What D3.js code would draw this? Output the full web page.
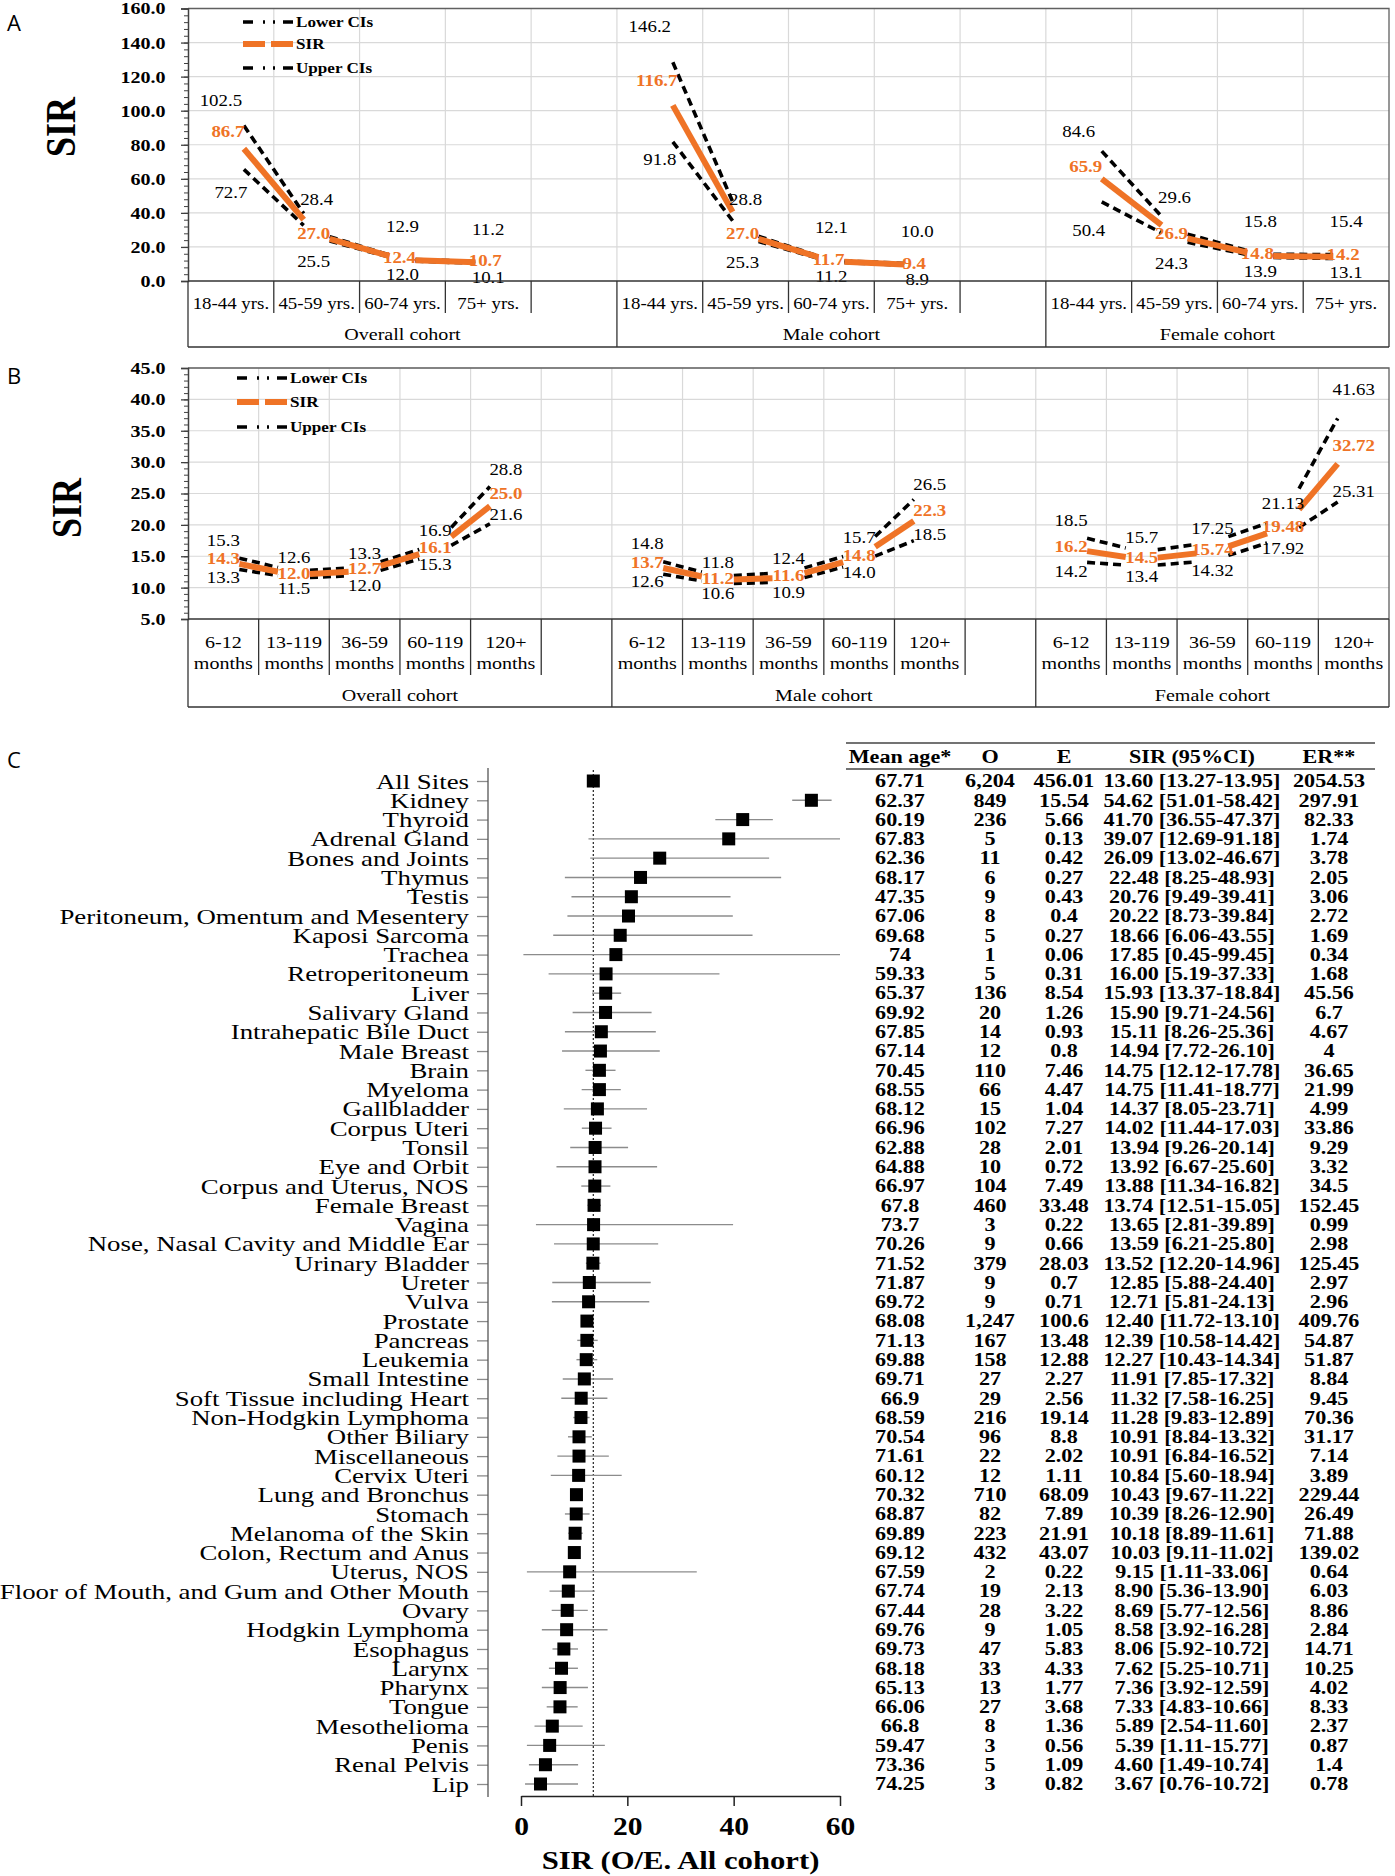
<!DOCTYPE html>
<html>
<head>
<meta charset="utf-8">
<script src="https://cdn.jsdelivr.net/npm/d3@7"></script>
<style>
  body { margin: 0; background: #fff; }
  svg { display: block; }
  text { font-family: 'Liberation Serif', 'Times New Roman', serif; }
  .letter { font-family: 'Open Sans', sans-serif; font-size: 22px; }
</style>
</head>
<body>
<div id="chart"></div>
<script>
// ---- panel A: SIR by age group ----
const cohorts = ['Overall cohort', 'Male cohort', 'Female cohort'];
const ageGroups = ['18-44 yrs.', '45-59 yrs.', '60-74 yrs.', '75+ yrs.'];
const ageUpper = [[102.5, 28.4, 12.9, 11.2], [146.2, 28.8, 12.1, 10.0], [84.6, 29.6, 15.8, 15.4]];
const ageSIR   = [[86.7, 27.0, 12.4, 10.7], [116.7, 27.0, 11.7, 9.4], [65.9, 26.9, 14.8, 14.2]];
const ageLower = [[72.7, 25.5, 12.0, 10.1], [91.8, 25.3, 11.2, 8.9], [50.4, 24.3, 13.9, 13.1]];

// ---- panel B: SIR by latency ----
const latency = ['6-12 months', '13-119 months', '36-59 months', '60-119 months', '120+ months'];
const latUpper = [[15.3, 12.6, 13.3, 16.9, 28.8], [14.8, 11.8, 12.4, 15.7, 26.5], [18.5, 15.7, 17.25, 21.13, 41.63]];
const latSIR   = [[14.3, 12.0, 12.7, 16.1, 25.0], [13.7, 11.2, 11.6, 14.8, 22.3], [16.2, 14.5, 15.74, 19.48, 32.72]];
const latLower = [[13.3, 11.5, 12.0, 15.3, 21.6], [12.6, 10.6, 10.9, 14.0, 18.5], [14.2, 13.4, 14.32, 17.92, 25.31]];

// ---- panel C: SIR by cancer site ----
const sites = ['All Sites', 'Kidney', 'Thyroid', 'Adrenal Gland', 'Bones and Joints', 'Thymus', 'Testis',
  'Peritoneum, Omentum and Mesentery', 'Kaposi Sarcoma', 'Trachea', 'Retroperitoneum', 'Liver', 'Salivary Gland',
  'Intrahepatic Bile Duct', 'Male Breast', 'Brain', 'Myeloma', 'Gallbladder', 'Corpus Uteri', 'Tonsil',
  'Eye and Orbit', 'Corpus and Uterus, NOS', 'Female Breast', 'Vagina', 'Nose, Nasal Cavity and Middle Ear',
  'Urinary Bladder', 'Ureter', 'Vulva', 'Prostate', 'Pancreas', 'Leukemia', 'Small Intestine',
  'Soft Tissue including Heart', 'Non-Hodgkin Lymphoma', 'Other Biliary', 'Miscellaneous', 'Cervix Uteri',
  'Lung and Bronchus', 'Stomach', 'Melanoma of the Skin', 'Colon, Rectum and Anus', 'Uterus, NOS',
  'Floor of Mouth, and Gum and Other Mouth', 'Ovary', 'Hodgkin Lymphoma', 'Esophagus', 'Larynx', 'Pharynx',
  'Tongue', 'Mesothelioma', 'Penis', 'Renal Pelvis', 'Lip'];
const meanAge = ['67.71', '62.37', '60.19', '67.83', '62.36', '68.17', '47.35', '67.06', '69.68', '74', '59.33',
  '65.37', '69.92', '67.85', '67.14', '70.45', '68.55', '68.12', '66.96', '62.88', '64.88', '66.97', '67.8',
  '73.7', '70.26', '71.52', '71.87', '69.72', '68.08', '71.13', '69.88', '69.71', '66.9', '68.59', '70.54',
  '71.61', '60.12', '70.32', '68.87', '69.89', '69.12', '67.59', '67.74', '67.44', '69.76', '69.73', '68.18',
  '65.13', '66.06', '66.8', '59.47', '73.36', '74.25'];
const observed = ['6,204', '849', '236', '5', '11', '6', '9', '8', '5', '1', '5', '136', '20', '14', '12', '110',
  '66', '15', '102', '28', '10', '104', '460', '3', '9', '379', '9', '9', '1,247', '167', '158', '27', '29', '216',
  '96', '22', '12', '710', '82', '223', '432', '2', '19', '28', '9', '47', '33', '13', '27', '8', '3', '5', '3'];
const expected = ['456.01', '15.54', '5.66', '0.13', '0.42', '0.27', '0.43', '0.4', '0.27', '0.06', '0.31', '8.54',
  '1.26', '0.93', '0.8', '7.46', '4.47', '1.04', '7.27', '2.01', '0.72', '7.49', '33.48', '0.22', '0.66', '28.03',
  '0.7', '0.71', '100.6', '13.48', '12.88', '2.27', '2.56', '19.14', '8.8', '2.02', '1.11', '68.09', '7.89',
  '21.91', '43.07', '0.22', '2.13', '3.22', '1.05', '5.83', '4.33', '1.77', '3.68', '1.36', '0.56', '1.09', '0.82'];
const siteSIR = [13.60, 54.62, 41.70, 39.07, 26.09, 22.48, 20.76, 20.22, 18.66, 17.85, 16.00, 15.93, 15.90, 15.11,
  14.94, 14.75, 14.75, 14.37, 14.02, 13.94, 13.92, 13.88, 13.74, 13.65, 13.59, 13.52, 12.85, 12.71, 12.40, 12.39,
  12.27, 11.91, 11.32, 11.28, 10.91, 10.91, 10.84, 10.43, 10.39, 10.18, 10.03, 9.15, 8.90, 8.69, 8.58, 8.06, 7.62,
  7.36, 7.33, 5.89, 5.39, 4.60, 3.67];
const ciLow = [13.27, 51.01, 36.55, 12.69, 13.02, 8.25, 9.49, 8.73, 6.06, 0.45, 5.19, 13.37, 9.71, 8.26, 7.72,
  12.12, 11.41, 8.05, 11.44, 9.26, 6.67, 11.34, 12.51, 2.81, 6.21, 12.20, 5.88, 5.81, 11.72, 10.58, 10.43, 7.85,
  7.58, 9.83, 8.84, 6.84, 5.60, 9.67, 8.26, 8.89, 9.11, 1.11, 5.36, 5.77, 3.92, 5.92, 5.25, 3.92, 4.83, 2.54, 1.11,
  1.49, 0.76];
const ciHigh = [13.95, 58.42, 47.37, 91.18, 46.67, 48.93, 39.41, 39.84, 43.55, 99.45, 37.33, 18.84, 24.56, 25.36,
  26.10, 17.78, 18.77, 23.71, 17.03, 20.14, 25.60, 16.82, 15.05, 39.89, 25.80, 14.96, 24.40, 24.13, 13.10, 14.42,
  14.34, 17.32, 16.25, 12.89, 13.32, 16.52, 18.94, 11.22, 12.90, 11.61, 11.02, 33.06, 13.90, 12.56, 16.28, 10.72,
  10.71, 12.59, 10.66, 11.60, 15.77, 10.74, 10.72];
const excessRisk = ['2054.53', '297.91', '82.33', '1.74', '3.78', '2.05', '3.06', '2.72', '1.69', '0.34', '1.68',
  '45.56', '6.7', '4.67', '4', '36.65', '21.99', '4.99', '33.86', '9.29', '3.32', '34.5', '152.45', '0.99', '2.98',
  '125.45', '2.97', '2.96', '409.76', '54.87', '51.87', '8.84', '9.45', '70.36', '31.17', '7.14', '3.89', '229.44',
  '26.49', '71.88', '139.02', '0.64', '6.03', '8.86', '2.84', '14.71', '10.25', '4.02', '8.33', '2.37', '0.87',
  '1.4', '0.78'];
const tableHeader = ['Mean age*', 'O', 'E', 'SIR (95%CI)', 'ER**'];

const W = 1395, H = 1876;
const SX = 1.18;          // the printed figure is stretched sideways
const ORANGE = '#ef7326';
const X0 = 188, X1 = 1389;

const svg = d3.select('#chart').append('svg')
  .attr('width', W).attr('height', H)
  .attr('viewBox', [0, 0, W, H]);

// text that keeps the wide look of the original
function stext(g, x, y, s, sx = SX) {
  return g.append('text')
    .attr('transform', `translate(${x},${y}) scale(${sx},1)`)
    .attr('fill', '#000')
    .text(s);
}
const fmtLabel = v => Number.isInteger(v) ? v.toFixed(1) : String(v);

function drawPanel(o) {
  const g = svg.append('g');
  const slots = [];
  cohorts.forEach((c, ci) => {
    o.cats.forEach((k, ki) => slots.push(ci + '|' + ki));
    if (ci < cohorts.length - 1) slots.push(ci + '|gap');
  });
  const x = d3.scaleBand().domain(slots).range([X0, X1]);
  const y = d3.scaleLinear().domain(o.domain).range([o.bottom, o.top]);
  const cx = (ci, k) => x(ci + '|' + k) + x.bandwidth() / 2;
  const majors = d3.range(o.domain[0], o.domain[1] + 1e-6, o.step);
  const minors = d3.range(o.domain[0], o.domain[1] + 1e-6, o.minor);

  // grid
  g.append('g').selectAll('line').data(majors.slice(1)).join('line')
    .attr('x1', X0).attr('x2', X1).attr('y1', d => y(d)).attr('y2', d => y(d))
    .attr('stroke', '#d9d9d9').attr('stroke-width', 1.2);
  g.append('g').selectAll('line').data(slots.slice(1)).join('line')
    .attr('x1', d => x(d)).attr('x2', d => x(d)).attr('y1', o.top).attr('y2', o.bottom)
    .attr('stroke', '#d9d9d9').attr('stroke-width', 1.2);
  g.append('path')
    .attr('d', `M${X0},${o.top}H${X1}V${o.bottom}`)
    .attr('fill', 'none').attr('stroke', '#606060').attr('stroke-width', 1.3);

  // y axis
  const ya = g.append('g').attr('transform', `translate(${X0},0)`)
    .call(d3.axisLeft(y).tickValues(majors).tickFormat(d3.format('.1f')).tickSize(7).tickPadding(12));
  ya.select('.domain').attr('stroke', '#404040').attr('stroke-width', 1.5);
  ya.selectAll('.tick line').attr('stroke', '#404040').attr('stroke-width', 1.3);
  ya.selectAll('text')
    .attr('font-family', null).attr('font-size', 17).attr('font-weight', 'bold')
    .attr('transform', `scale(${SX},1)`);
  const ym = g.append('g').attr('transform', `translate(${X0},0)`)
    .call(d3.axisLeft(y).tickValues(minors).tickFormat('').tickSize(4));
  ym.select('.domain').remove();
  ym.selectAll('.tick line').attr('stroke', '#404040');

  g.append('text')
    .attr('transform', `translate(${o.titleX},${o.titleY}) rotate(-90) scale(1,${SX})`)
    .attr('text-anchor', 'middle').attr('dy', '0.35em')
    .attr('font-size', 36).attr('font-weight', 'bold').text('SIR');

  // lines, trimmed around each point like the source chart
  const trim = (p, q, t) => {
    const f = t / (q[0] - p[0]);
    return [[p[0] + f * (q[0] - p[0]), p[1] + f * (q[1] - p[1])],
            [q[0] - f * (q[0] - p[0]), q[1] - f * (q[1] - p[1])]];
  };
  const series = [
    { vals: o.lower, color: '#000', width: 3.6, dash: '8,5', key: 'lower' },
    { vals: o.upper, color: '#000', width: 3.6, dash: '8,5', key: 'upper' },
    { vals: o.sir, color: ORANGE, width: 6, dash: null, key: 'sir' }
  ];
  series.forEach(s => {
    const segs = [];
    s.vals.forEach((arr, ci) => {
      for (let k = 0; k < arr.length - 1; k++) {
        segs.push(trim([cx(ci, k), y(arr[k])], [cx(ci, k + 1), y(arr[k + 1])], o.trim));
      }
    });
    g.append('g').selectAll('line').data(segs).join('line')
      .attr('x1', d => d[0][0]).attr('y1', d => d[0][1])
      .attr('x2', d => d[1][0]).attr('y2', d => d[1][1])
      .attr('stroke', s.color).attr('stroke-width', s.width)
      .attr('stroke-dasharray', s.dash);
  });

  // data labels
  const lg = g.append('g').attr('text-anchor', 'middle').attr('font-size', 16);
  series.forEach(s => {
    s.vals.forEach((arr, ci) => {
      arr.forEach((v, k) => {
        const [dx, dy] = o.offset(s.key, k, arr.length);
        const t = stext(lg, cx(ci, k) + dx, y(v) + dy, fmtLabel(v)).attr('dy', '0.35em');
        if (s.key === 'sir') t.attr('fill', ORANGE).attr('font-weight', 'bold');
      });
    });
  });

  // legend
  const leg = g.append('g');
  const legItems = [['Lower CIs', 'ci'], ['SIR', 'sir'], ['Upper CIs', 'ci']];
  legItems.forEach(([name, kind], i) => {
    const ly = o.legendY[i];
    if (kind === 'sir') {
      leg.append('line').attr('x1', o.legendX).attr('x2', o.legendX + 50).attr('y1', ly).attr('y2', ly)
        .attr('stroke', ORANGE).attr('stroke-width', 6).attr('stroke-dasharray', '22,6');
    } else {
      leg.append('line').attr('x1', o.legendX).attr('x2', o.legendX + 50).attr('y1', ly).attr('y2', ly)
        .attr('stroke', '#000').attr('stroke-width', 3.6).attr('stroke-dasharray', '10,10,2,8,2,8,10');
    }
    stext(leg, o.legendX + 53, ly, name).attr('dy', '0.35em')
      .attr('font-size', 14.5).attr('font-weight', 'bold');
  });

  // category table under the axis
  const tg = g.append('g').attr('stroke', '#333').attr('stroke-width', 1.3);
  tg.append('line').attr('x1', X0).attr('x2', X1).attr('y1', o.bottom).attr('y2', o.bottom).attr('stroke-width', 1.6);
  tg.append('line').attr('x1', X0).attr('x2', X1).attr('y1', o.groupBottom).attr('y2', o.groupBottom);
  tg.append('line').attr('x1', X0).attr('x2', X0).attr('y1', o.bottom).attr('y2', o.groupBottom);
  tg.selectAll('.sep').data(slots).join('line').attr('class', 'sep')
    .attr('x1', d => x(d) + x.bandwidth()).attr('x2', d => x(d) + x.bandwidth())
    .attr('y1', o.bottom)
    .attr('y2', (d, i) => (d.endsWith('gap') || i === slots.length - 1) ? o.groupBottom : o.catBottom);

  const cg = g.append('g').attr('text-anchor', 'middle').attr('font-size', o.catSize);
  cohorts.forEach((c, ci) => {
    o.cats.forEach((k, ki) => {
      const lines = o.wrap ? [k.slice(0, k.indexOf(' ')), k.slice(k.indexOf(' ') + 1)] : [k];
      lines.forEach((ln, li) => stext(cg, cx(ci, ki), o.catY[li], ln).attr('dy', '0.35em'));
    });
    const first = x(ci + '|0');
    const lastSlot = ci < cohorts.length - 1 ? ci + '|gap' : ci + '|' + (o.cats.length - 1);
    const end = x(lastSlot) + x.bandwidth();
    stext(cg, (first + end) / 2, o.groupY, c).attr('dy', '0.35em').attr('font-size', 17);
  });

  svg.append('text').attr('class', 'letter').attr('x', 7).attr('y', o.letterY).text(o.letter);
}

drawPanel({
  letter: 'A', letterY: 31,
  cats: ageGroups, upper: ageUpper, sir: ageSIR, lower: ageLower,
  domain: [0, 160], step: 20, minor: 4,
  top: 8.5, bottom: 281, catBottom: 313, groupBottom: 347,
  catY: [303], groupY: 334, catSize: 16, wrap: false,
  titleX: 60, titleY: 127,
  legendX: 243, legendY: [22, 44, 68],
  trim: 13,
  offset: (key, k) => {
    if (key === 'upper') return k === 0 ? [-10, -6] : [0, -33];
    if (key === 'lower') return k === 0 ? [0, 35] : (k === 1 ? [-3, 24] : [0, 14]);
    return [-3, -2];
  }
});

drawPanel({
  letter: 'B', letterY: 384,
  cats: latency, upper: latUpper, sir: latSIR, lower: latLower,
  domain: [5, 45], step: 5, minor: 1,
  top: 368, bottom: 619, catBottom: 675, groupBottom: 707,
  catY: [642, 663], groupY: 695, catSize: 17, wrap: true,
  titleX: 66, titleY: 508,
  legendX: 237, legendY: [378, 402, 427],
  trim: 16,
  offset: (key, k, n) => {
    if (k === n - 1) return [0, 0];
    if (key === 'upper') return [0, -14];
    if (key === 'lower') return [0, 10];
    return [0, -2];
  }
});

// ---- panel C: forest plot + table ----
const gc = svg.append('g');
svg.append('text').attr('class', 'letter').attr('x', 7).attr('y', 768).text('C');

const yRow = d3.scalePoint().domain(sites).range([781, 1784]);
const xF = d3.scaleLinear().domain([0, 60]).range([521, 840]);
const AX = 488;
const LSX = 1.22;

const la = gc.append('g').attr('transform', `translate(${AX},0)`)
  .call(d3.axisLeft(yRow).tickSize(11).tickPadding(19));
la.select('.domain').remove();
la.selectAll('.tick line').attr('stroke', '#8c8c8c').attr('stroke-width', 1.3);
la.selectAll('text')
  .attr('font-family', null).attr('font-size', 22)
  .attr('x', 0).attr('transform', `translate(-19,0) scale(${LSX},1)`);
gc.append('line').attr('x1', AX).attr('x2', AX).attr('y1', 768).attr('y2', 1797)
  .attr('stroke', '#555').attr('stroke-width', 1.3);

const ba = gc.append('g').attr('transform', 'translate(0,1796)')
  .call(d3.axisBottom(xF).tickValues([0, 20, 40, 60]).tickSize(10).tickSizeOuter(0).tickPadding(11));
ba.select('.domain').attr('stroke', '#222').attr('stroke-width', 1.5);
ba.selectAll('.tick line').attr('stroke', '#222').attr('stroke-width', 1.5);
ba.selectAll('.tick text')
  .attr('font-family', null).attr('font-size', 25).attr('font-weight', 'bold')
  .attr('transform', `scale(${SX},1)`);

stext(gc, xF(30), 1869, 'SIR (O/E. All cohort)').attr('text-anchor', 'middle')
  .attr('font-size', 26).attr('font-weight', 'bold');

gc.append('line')
  .attr('x1', xF(siteSIR[0])).attr('x2', xF(siteSIR[0])).attr('y1', 770).attr('y2', 1796)
  .attr('stroke', '#222').attr('stroke-width', 1.2).attr('stroke-dasharray', '2,2');

gc.append('g').selectAll('line').data(sites).join('line')
  .attr('x1', (d, i) => xF(Math.max(ciLow[i], 0)))
  .attr('x2', (d, i) => xF(Math.min(ciHigh[i], 60)))
  .attr('y1', d => yRow(d)).attr('y2', d => yRow(d))
  .attr('stroke', '#8c8c8c').attr('stroke-width', 1.4);

gc.append('g').selectAll('rect').data(sites).join('rect')
  .attr('x', (d, i) => xF(siteSIR[i]) - 6.5).attr('y', d => yRow(d) - 6.5)
  .attr('width', 13).attr('height', 13).attr('fill', '#000');

// table
const colX = [900, 990, 1064, 1192, 1329];
const TSX = 1.23;
const tb = gc.append('g').attr('text-anchor', 'middle').attr('font-size', 18).attr('font-weight', 'bold');
tb.append('line').attr('x1', 846).attr('x2', 1375).attr('y1', 743).attr('y2', 743).attr('stroke', '#444').attr('stroke-width', 1.4);
tb.append('line').attr('x1', 846).attr('x2', 1375).attr('y1', 769).attr('y2', 769).attr('stroke', '#444').attr('stroke-width', 1.4);
tableHeader.forEach((h, j) => stext(tb, colX[j], 757, h, TSX).attr('dy', '0.35em'));
const f2 = d3.format('.2f');
sites.forEach((s, i) => {
  const cells = [meanAge[i], observed[i], expected[i],
    `${f2(siteSIR[i])} [${f2(ciLow[i])}-${f2(ciHigh[i])}]`, excessRisk[i]];
  cells.forEach((c, j) => stext(tb, colX[j], yRow(s), c, TSX).attr('dy', '0.35em'));
});
</script>
</body>
</html>
